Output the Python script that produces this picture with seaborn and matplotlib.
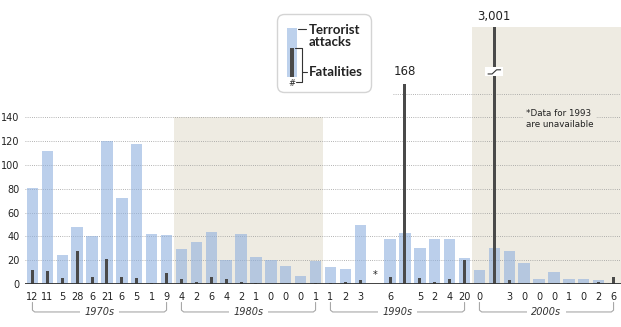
import numpy as np
import pandas as pd
import matplotlib
matplotlib.use("Agg")
import matplotlib.pyplot as plt
import seaborn as sns
from matplotlib.patches import FancyBboxPatch, Rectangle

# ---------------- data ----------------
years = list(range(1970, 2010))
attacks = [81, 112, 24, 48, 40, 120, 72, 118, 42, 41,
           29, 35, 44, 20, 42, 23, 20, 15, 7, 19,
           14, 13, 50, np.nan, 38, 43, 30, 38, 38, 22,
           12, 30, 28, 18, 4, 10, 4, 4, 3, 1]
fatalities = [12, 11, 5, 28, 6, 21, 6, 5, 1, 9,
              4, 2, 6, 4, 2, 1, 0, 0, 0, 1,
              1, 2, 3, np.nan, 6, 168, 5, 2, 4, 20,
              0, 3001, 3, 0, 0, 0, 1, 0, 2, 6]
decades = ["1970s", "1980s", "1990s", "2000s"]
y_ticks = [0, 20, 40, 60, 80, 100, 120, 140]
note = "*Data for 1993\nare unavailable"
legend_attacks = "Terrorist\nattacks"
legend_fatal = "Fatalities"
cap = 216  # broken-axis display cap

# ---------------- style ----------------
sns.set_style("white")
plt.rcParams["font.family"] = ["DejaVu Sans"]

BLUE = "#8fb0de"
DARK = "#4a4a4a"
BEIGE = "#eeebe2"
GRID = "#9a9a9a"
TXT = "#222222"

W, H = 621, 327
fig = plt.figure(figsize=(W / 100, H / 100), dpi=100)
ax = fig.add_axes([25 / W, 43 / H, 596 / W, 274 / H])
ax.set_facecolor("white")

df = pd.DataFrame({"year": [str(y) for y in years],
                   "attacks": attacks,
                   "fatal": fatalities})
df["fatal_disp"] = np.minimum(df["fatal"], cap)
order = df["year"].tolist()

sns.barplot(data=df, x="year", y="attacks", order=order, color=BLUE,
            saturation=1, alpha=0.6, width=0.76, errorbar=None, ax=ax,
            zorder=2, linewidth=0, edgecolor="none")
sns.barplot(data=df, x="year", y="fatal_disp", order=order, color=DARK,
            saturation=1, width=0.2, errorbar=None, ax=ax, zorder=3,
            linewidth=0, edgecolor="none")

ax.set_xlim(-0.5, 39.5)
ax.set_ylim(0, 274 / 1.19)
for s in ax.spines.values():
    s.set_visible(False)

# shaded decades
ax.fill_between([9.5, 19.5], 0, 140, color=BEIGE, zorder=0.2, lw=0)
ax.fill_between([29.5, 39.5], 0, cap, color=BEIGE, zorder=0.2, lw=0)

# grid
for v in y_ticks[1:]:
    ax.axhline(v, color=GRID, lw=0.6, ls=(0, (1, 1.6)), zorder=0.5)
ax.hlines(160, 24.2, 39.5, color=GRID, lw=0.6, ls=(0, (1, 1.6)), zorder=0.5)
ax.axhline(0, color="#333333", lw=1.3, zorder=5)

ax.set_yticks(y_ticks)
ax.set_yticklabels([str(v) for v in y_ticks], fontsize=7, color=TXT)
ax.tick_params(axis="y", length=0, pad=4)

xl = []
for f in fatalities:
    if np.isnan(f) or f > 100:
        xl.append("")
    else:
        xl.append(str(int(f)))
ax.set_xticks(range(len(years)))
ax.set_xticklabels(xl, fontsize=7, color=TXT)
ax.tick_params(axis="x", length=0, pad=5.5)
ax.set_xlabel("")
ax.set_ylabel("")

# labels for tall bars
for i, f in enumerate(fatalities):
    if not np.isnan(f) and f > 100:
        lab = f"{int(f):,}"
        yv = min(f, cap) + (5 if f <= cap else 3)
        ax.text(i, yv, lab, ha="center", va="bottom", fontsize=8.5,
                color=TXT, clip_on=False, zorder=6)
        if f > cap:
            ax.add_patch(Rectangle((i - 0.6, 174.5), 1.2, 7.5, color="white",
                                   zorder=6, lw=0))
            ax.plot([i - 0.45, i - 0.15, i + 0.15, i + 0.45],
                    [176.5, 176.5, 180, 180], color="#333333", lw=0.8,
                    zorder=7, solid_capstyle="butt")

# missing data star
for i, a in enumerate(attacks):
    if np.isnan(a):
        ax.text(i, 3, "*", ha="center", va="bottom", fontsize=7, color=TXT)

# note
ax.text(33.1, 147, note, ha="left", va="top", fontsize=6.3, color=TXT,
        linespacing=1.25, zorder=4,
        bbox=dict(facecolor=BEIGE, edgecolor="none", pad=2))

# decade brackets
for d, lab in enumerate(decades):
    x0, x1 = 10 * d, 10 * d + 9
    ax.plot([x0, x0, x0 + 0.15, x1 - 0.15, x1, x1],
            [-15.5, -22, -23.5, -23.5, -22, -15.5],
            color="#a8a8a8", lw=0.8, clip_on=False, zorder=3)
    ax.text((x0 + x1) / 2, -23.5, lab, ha="center", va="center",
            fontsize=7, style="italic", color="#333333", clip_on=False,
            zorder=4, bbox=dict(facecolor="white", edgecolor="none", pad=3))

# ---------------- legend (pixel overlay) ----------------
ov = fig.add_axes([0, 0, 1, 1], zorder=10)
ov.set_xlim(0, W)
ov.set_ylim(H, 0)
ov.axis("off")
ov.patch.set_visible(False)
ov.add_patch(FancyBboxPatch((280, 17), 89, 73,
                            boxstyle="round,pad=2.5,rounding_size=7",
                            facecolor="white", edgecolor="#d4d4d4", lw=1.0))
ov.add_patch(Rectangle((287, 28), 10, 49, color="#bdd1ec", lw=0))
ov.add_patch(Rectangle((290.3, 48), 3.5, 29, color=DARK, lw=0))
ov.text(291.5, 84, "#", ha="center", va="center", fontsize=6, color=TXT)
lc = "#333333"
ov.plot([298, 306], [29, 29], color=lc, lw=0.8)
ov.plot([294.5, 302, 302, 296], [48, 48, 82, 82], color=lc, lw=0.8)
ov.plot([302, 307], [72, 72], color=lc, lw=0.8)
ov.text(309, 24, legend_attacks, ha="left", va="top", fontsize=9.5,
        fontweight="bold", color=TXT, linespacing=1.0, family=["Lato"])
ov.text(309, 72, legend_fatal, ha="left", va="center", fontsize=9.5,
        fontweight="bold", color=TXT, family=["Lato"])

fig.savefig("out.png", dpi=100, facecolor="white")
